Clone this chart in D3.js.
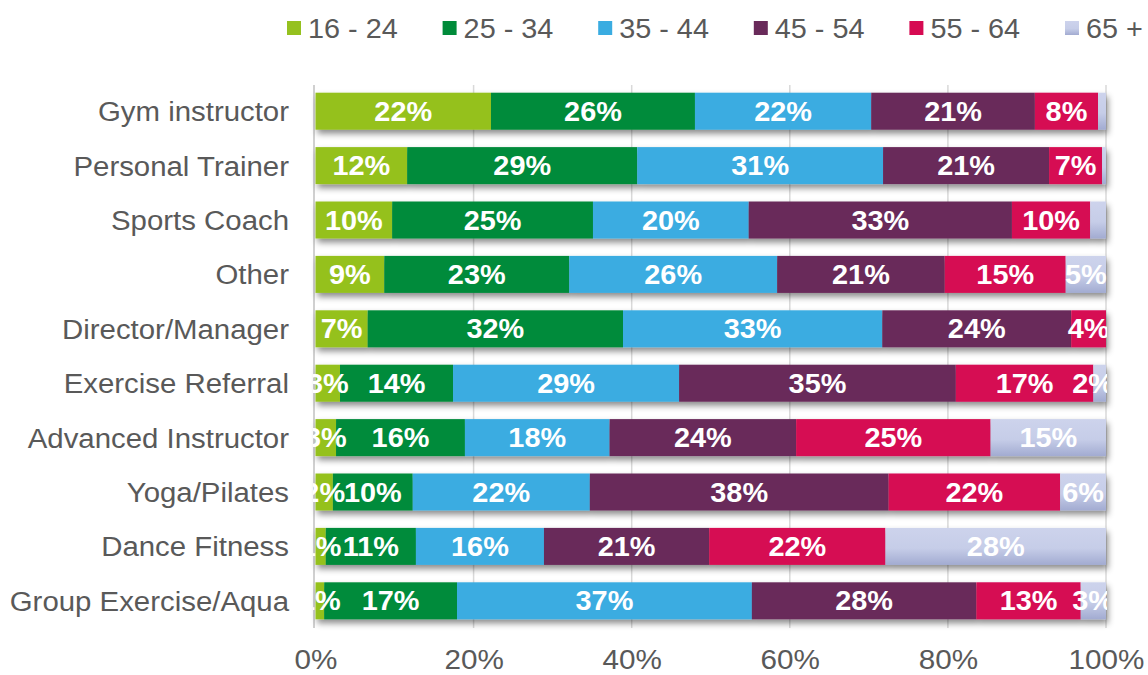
<!DOCTYPE html>
<html>
<head>
<meta charset="utf-8">
<script src="https://cdn.jsdelivr.net/npm/d3@7"></script>
<style>
  body { margin: 0; background: #fff; }
  svg text { font-family: "Liberation Sans", Arial, sans-serif; }
</style>
</head>
<body>
<div class="container"></div>
<script>
const WIDTH = 1148;
const HEIGHT = 675;

const PLOT_LEFT = 315.5;
const PLOT_RIGHT = 1106;
const PLOT_TOP = 84;
const PLOT_BOTTOM = 628;

const categories = [
  'Gym instructor', 'Personal Trainer', 'Sports Coach', 'Other',
  'Director/Manager', 'Exercise Referral', 'Advanced Instructor',
  'Yoga/Pilates', 'Dance Fitness', 'Group Exercise/Aqua'
];
const seriesNames = ['16 - 24', '25 - 34', '35 - 44', '45 - 54', '55 - 64', '65 +'];

// percentages per category
const age16to24 = [22.2, 11.6, 9.7, 8.7, 6.6, 3.1, 2.6, 2.2, 1.3, 1.1];
const age25to34 = [25.8, 29.1, 25.4, 23.4, 32.3, 14.3, 16.3, 10.1, 11.4, 16.8];
const age35to44 = [22.3, 31.1, 19.7, 26.3, 32.8, 28.6, 18.3, 22.4, 16.2, 37.3];
const age45to54 = [20.7, 21.0, 33.3, 21.2, 23.9, 35.0, 23.6, 37.8, 20.9, 28.4];
const age55to64 = [8.0, 6.7, 9.9, 15.3, 4.4, 17.4, 24.6, 21.7, 22.3, 13.2];
const age65plus = [1.0, 0.5, 2.0, 5.1, 0.0, 1.6, 14.6, 5.8, 27.9, 3.2];

const tickValues = [0, 20, 40, 60, 80, 100];

// labels the original chart leaves out
const hiddenLabels = [
  'Gym instructor|65 +', 'Personal Trainer|65 +',
  'Sports Coach|65 +', 'Director/Manager|65 +'
];

const colors = ['#95c11f', '#008b3a', '#3aace1', '#692a5a', '#d60a52', 'url(#grad65)'];

var seriesValues = [age16to24, age25to34, age35to44, age45to54, age55to64, age65plus];

var rows = categories.map(function(c, i){
  var row = {category: c};
  seriesNames.forEach(function(s, j){ row[s] = seriesValues[j][i]; });
  return row;
});

var translate = function(x, y){
  return 'translate(' + x + ',' + y + ')';
};

var execute = function () {
  var svg = d3.select('.container').append('svg')
    .attr('width', WIDTH)
    .attr('height', HEIGHT);

  var defs = svg.append('defs');
  var grad = defs.append('linearGradient')
    .attr('id', 'grad65')
    .attr('x1', 0).attr('y1', 0).attr('x2', 0).attr('y2', 1);
  grad.append('stop').attr('offset', '0%').attr('stop-color', '#cdd3ec');
  grad.append('stop').attr('offset', '55%').attr('stop-color', '#c6cde8');
  grad.append('stop').attr('offset', '100%').attr('stop-color', '#a2abd1');

  var shadow = defs.append('filter').attr('id', 'shadow')
    .attr('x', '-5%').attr('y', '-30%').attr('width', '110%').attr('height', '180%');
  shadow.append('feDropShadow')
    .attr('dx', 2).attr('dy', 4).attr('stdDeviation', 3)
    .attr('flood-color', '#000').attr('flood-opacity', 0.45);

  defs.append('clipPath').attr('id', 'plotClip')
    .append('rect')
    .attr('x', 313).attr('y', 0)
    .attr('width', PLOT_RIGHT - 313 + 1).attr('height', HEIGHT);

  var xScale = d3.scaleLinear()
    .domain([0, 100])
    .range([PLOT_LEFT, PLOT_RIGHT]);

  var yScale = d3.scaleBand()
    .domain(categories)
    .range([PLOT_TOP, PLOT_BOTTOM])
    .paddingInner(0.32)
    .paddingOuter(0.16);

  // gridlines
  svg.append('g').selectAll('line')
    .data(tickValues.slice(1))
    .enter().append('line')
    .attr('x1', function(d){ return xScale(d); })
    .attr('x2', function(d){ return xScale(d); })
    .attr('y1', PLOT_TOP + 1)
    .attr('y2', PLOT_BOTTOM)
    .attr('stroke', '#d9d9d9')
    .attr('stroke-width', 1.5);

  svg.append('line')
    .attr('x1', 314).attr('x2', 314)
    .attr('y1', PLOT_TOP + 1).attr('y2', PLOT_BOTTOM)
    .attr('stroke', '#d0d0d0')
    .attr('stroke-width', 2);

  var stack = d3.stack().keys(seriesNames);
  var stacked = stack(rows);

  var bars = svg.append('g').attr('filter', 'url(#shadow)');
  bars.selectAll('g')
    .data(stacked)
    .enter().append('g')
    .attr('fill', function(d, i){ return colors[i]; })
    .selectAll('rect')
    .data(function(d){ return d; })
    .enter().append('rect')
    .attr('x', function(d){ return xScale(d[0]); })
    .attr('width', function(d){ return Math.max(0, xScale(d[1]) - xScale(d[0])); })
    .attr('y', function(d){ return yScale(d.data.category); })
    .attr('height', yScale.bandwidth());

  // value labels (kept a little inside the right edge, like Excel does)
  var labels = svg.append('g').attr('clip-path', 'url(#plotClip)');
  stacked.forEach(function(series){
    labels.selectAll(null)
      .data(series.filter(function(d){
        return d[1] - d[0] > 0.2 &&
          hiddenLabels.indexOf(d.data.category + '|' + series.key) < 0;
      }))
      .enter().append('text')
      .attr('transform', function(d){
        var cx = Math.min(xScale((d[0] + d[1]) / 2), PLOT_RIGHT - 13);
        var cy = yScale(d.data.category) + yScale.bandwidth() / 2 + 9.5;
        return translate(cx, cy) + ' scale(1.07,1)';
      })
      .attr('text-anchor', 'middle')
      .attr('fill', '#fff')
      .attr('font-weight', 'bold')
      .attr('font-size', '27px')
      .text(function(d){ return Math.round(d[1] - d[0]) + '%'; });
  });

  // category axis
  svg.append('g').selectAll('text')
    .data(categories)
    .enter().append('text')
    .attr('transform', function(d){
      return translate(289, yScale(d) + yScale.bandwidth() / 2 + 10) + ' scale(1.05,1)';
    })
    .attr('text-anchor', 'end')
    .attr('fill', '#595959')
    .attr('font-size', '28px')
    .text(function(d){ return d; });

  // value axis
  var xAxis = d3.axisBottom(xScale)
    .tickValues(tickValues)
    .tickSize(0)
    .tickPadding(0)
    .tickFormat(function(d){ return d + '%'; });

  var axisG = svg.append('g')
    .attr('transform', translate(0, PLOT_BOTTOM))
    .call(xAxis);
  axisG.select('.domain').remove();
  axisG.selectAll('text')
    .attr('dy', null)
    .attr('y', 41)
    .attr('transform', 'scale(1.06,1)')
    .attr('fill', '#595959')
    .attr('font-size', '28px')
    .attr('font-family', '"Liberation Sans", Arial, sans-serif');

  // legend
  var legend = svg.append('g').selectAll('g')
    .data(seriesNames)
    .enter().append('g')
    .attr('transform', function(d, i){ return translate(287 + i * 155.6, 0); });
  legend.append('rect')
    .attr('x', 0).attr('y', 21)
    .attr('width', 14).attr('height', 14)
    .attr('fill', function(d, i){ return colors[i]; });
  legend.append('text')
    .attr('transform', translate(21, 38) + ' scale(1.03,1)')
    .attr('fill', '#595959')
    .attr('font-size', '28px')
    .text(function(d){ return d; });
};

window.onload = execute;
</script>
</body>
</html>
